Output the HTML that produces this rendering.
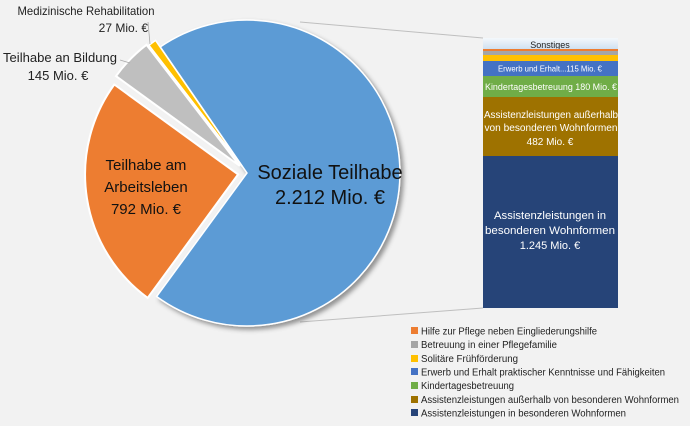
<!DOCTYPE html>
<html><head><meta charset="utf-8"><style>
body{margin:0;background:#f2f2f2}
svg{display:block;font-family:"Liberation Sans","DejaVu Sans",sans-serif}
</style></head><body>
<svg width="690" height="426" viewBox="0 0 690 426" xmlns="http://www.w3.org/2000/svg">
<defs>
<filter id="sh" x="-10%" y="-10%" width="125%" height="125%"><feDropShadow dx="3" dy="3" stdDeviation="2.5" flood-color="#000" flood-opacity="0.4"/></filter>
<linearGradient id="sg" x1="0" y1="0" x2="0" y2="1"><stop offset="0" stop-color="#f4f8fc"/><stop offset="1" stop-color="#c9dcef"/></linearGradient>
</defs>
<rect width="690" height="426" fill="#f2f2f2"/>
<line x1="300" y1="22" x2="483" y2="38" stroke="#bfbfbf" stroke-width="1"/>
<line x1="300" y1="322" x2="483" y2="308" stroke="#bfbfbf" stroke-width="1"/>
<path d="M247,173 L160.3,46.9 A153,153 0 1 1 156.6,296.5 Z" fill="#5b9bd5" stroke="#fff" stroke-width="1.5" filter="url(#sh)"/>
<path d="M238.1,174.4 L147.7,297.9 A153,153 0 0 1 114.3,84.5 Z" fill="#ed7d31" stroke="#fff" stroke-width="2"/>
<path d="M239.8,166 L116,76.1 A153,153 0 0 1 146.5,44.8 Z" fill="#bfbfbf" stroke="#fff" stroke-width="2"/>
<path d="M242.3,166.5 L149,45.3 A153,153 0 0 1 155.6,40.4 Z" fill="#ffc000" stroke="#fff" stroke-width="1.5"/>
<text x="330" y="179" font-size="20" text-anchor="middle" fill="#111">Soziale Teilhabe</text>
<text x="330" y="204" font-size="20" text-anchor="middle" fill="#111">2.212 Mio. €</text>
<text x="146" y="170" font-size="15" text-anchor="middle" fill="#111">Teilhabe am</text>
<text x="146" y="192" font-size="15" text-anchor="middle" fill="#111">Arbeitsleben</text>
<text x="146" y="214" font-size="15" text-anchor="middle" fill="#111">792 Mio. €</text>
<text x="86" y="15" font-size="12" text-anchor="middle" fill="#222" textLength="137" lengthAdjust="spacingAndGlyphs">Medizinische Rehabilitation</text>
<text x="148" y="32" font-size="12" text-anchor="end" fill="#222">27 Mio. €</text>
<line x1="148" y1="22" x2="150" y2="44" stroke="#aaa" stroke-width="0.8"/>
<text x="3" y="62" font-size="13" fill="#222" textLength="114" lengthAdjust="spacingAndGlyphs">Teilhabe an Bildung</text>
<text x="58" y="80" font-size="13" text-anchor="middle" fill="#222">145 Mio. €</text>
<line x1="120" y1="60" x2="130" y2="63" stroke="#aaa" stroke-width="0.8"/>
<rect x="483" y="38" width="135" height="13" fill="url(#sg)"/>
<text x="550" y="48" font-size="9" text-anchor="middle" fill="#222">Sonstiges</text>
<rect x="483" y="49" width="135" height="2" fill="#ed7d31"/>
<rect x="483" y="51" width="135" height="4" fill="#a5a5a5"/>
<rect x="483" y="55" width="135" height="6" fill="#ffc000"/>
<rect x="483" y="61" width="135" height="15" fill="#4472c4"/>
<text x="550" y="71.5" font-size="8.5" text-anchor="middle" fill="#fff" textLength="104" lengthAdjust="spacingAndGlyphs">Erwerb und Erhalt...115 Mio. €</text>
<rect x="483" y="76" width="135" height="21" fill="#70ad47"/>
<text x="551" y="90" font-size="9.5" text-anchor="middle" fill="#fff" textLength="132" lengthAdjust="spacingAndGlyphs">Kindertagesbetreuung 180 Mio. €</text>
<rect x="483" y="97" width="135" height="59" fill="#9e7200"/>
<text x="551" y="118" font-size="10" text-anchor="middle" fill="#fff" textLength="134" lengthAdjust="spacingAndGlyphs">Assistenzleistungen außerhalb</text>
<text x="551" y="131" font-size="10" text-anchor="middle" fill="#fff" textLength="133" lengthAdjust="spacingAndGlyphs">von besonderen Wohnformen</text>
<text x="550" y="145" font-size="10" text-anchor="middle" fill="#fff">482 Mio. €</text>
<rect x="483" y="156" width="135" height="152" fill="#264478"/>
<text x="550" y="219" font-size="11" text-anchor="middle" fill="#fff" textLength="112" lengthAdjust="spacingAndGlyphs">Assistenzleistungen in</text>
<text x="550" y="234" font-size="11" text-anchor="middle" fill="#fff" textLength="130" lengthAdjust="spacingAndGlyphs">besonderen Wohnformen</text>
<text x="550" y="249" font-size="11" text-anchor="middle" fill="#fff">1.245 Mio. €</text>
<g font-size="10" fill="#222" lengthAdjust="spacingAndGlyphs">
<rect x="411" y="327" width="7" height="7" fill="#ed7d31"/><text x="421" y="334.5" textLength="176" lengthAdjust="spacingAndGlyphs">Hilfe zur Pflege neben Eingliederungshilfe</text>
<rect x="411" y="341" width="7" height="7" fill="#a5a5a5"/><text x="421" y="348" textLength="136" lengthAdjust="spacingAndGlyphs">Betreuung in einer Pflegefamilie</text>
<rect x="411" y="355" width="7" height="7" fill="#ffc000"/><text x="421" y="362" textLength="97" lengthAdjust="spacingAndGlyphs">Solitäre Frühförderung</text>
<rect x="411" y="368" width="7" height="7" fill="#4472c4"/><text x="421" y="375.5" textLength="244" lengthAdjust="spacingAndGlyphs">Erwerb und Erhalt praktischer Kenntnisse und Fähigkeiten</text>
<rect x="411" y="382" width="7" height="7" fill="#70ad47"/><text x="421" y="389" textLength="93" lengthAdjust="spacingAndGlyphs">Kindertagesbetreuung</text>
<rect x="411" y="396" width="7" height="7" fill="#9e7200"/><text x="421" y="403" textLength="258" lengthAdjust="spacingAndGlyphs">Assistenzleistungen außerhalb von besonderen Wohnformen</text>
<rect x="411" y="409" width="7" height="7" fill="#264478"/><text x="421" y="416.5" textLength="205" lengthAdjust="spacingAndGlyphs">Assistenzleistungen in besonderen Wohnformen</text>
</g>
</svg>
</body></html>
